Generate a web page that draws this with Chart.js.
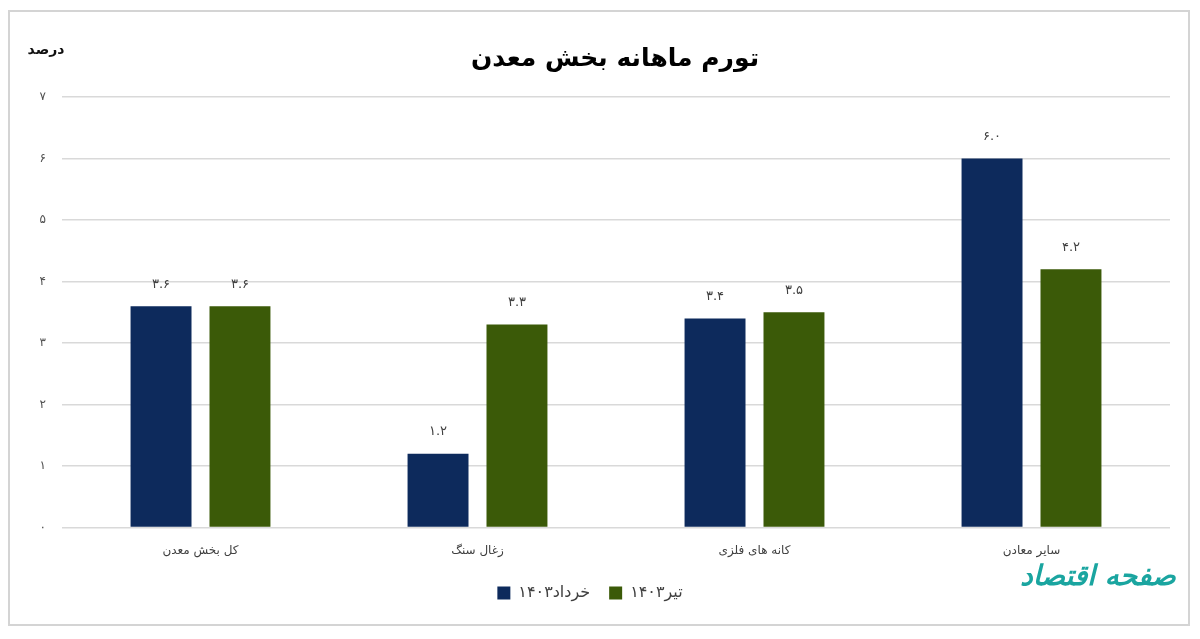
<!DOCTYPE html>
<html>
<head>
<meta charset="utf-8">
<script src="https://cdn.jsdelivr.net/npm/chart.js@4/dist/chart.umd.min.js"></script>
<style>
  body { margin: 0; background: #fff; }
  #frame {
    position: absolute; left: 8px; top: 10px;
    width: 1182px; height: 616px;
    box-sizing: border-box;
    border: 2px solid #d4d4d4;
  }
  canvas { display: block; }
</style>
</head>
<body>
<div id="frame"><canvas id="chart" width="1178" height="612"></canvas></div>
<script>
// data
var categories = ['کل بخش معدن', 'زغال سنگ', 'کانه های فلزی', 'سایر معادن'];
var seriesNames = ['خرداد۱۴۰۳', 'تیر۱۴۰۳'];
var khordad = [3.6, 1.2, 3.4, 6.0];
var tir = [3.6, 3.3, 3.5, 4.2];
var yTicks = [0, 1, 2, 3, 4, 5, 6, 7];
var chartTitle = 'تورم ماهانه بخش معدن';
var unitLabel = 'درصد';

var FONT = "'DejaVu Sans', sans-serif";
var faDigits = '۰۱۲۳۴۵۶۷۸۹';

// Convert latin digits to persian ones
function toFa(str) {
    return String(str).replace(/[0-9]/g, function (d) { return faDigits[d]; });
}

// Draw values above bars, title, unit label and watermark
var extraText = {
    id: 'extraText',
    afterDatasetsDraw: function (chart) {
        var ctx = chart.ctx;
        ctx.save();
        ctx.font = '13px ' + FONT;
        ctx.fillStyle = '#404040';
        ctx.textAlign = 'center';
        ctx.textBaseline = 'middle';
        chart.data.datasets.forEach(function (ds, i) {
            chart.getDatasetMeta(i).data.forEach(function (bar, j) {
                ctx.fillText(toFa(ds.data[j].toFixed(1)), bar.x, bar.y - 22);
            });
        });

        // title (sits a bit right of centre in the original)
        ctx.font = 'bold 25px ' + FONT;
        ctx.fillStyle = '#000';
        ctx.fillText(chartTitle, 605, 47);

        // unit label
        ctx.font = 'bold 14px ' + FONT;
        ctx.fillStyle = '#111';
        ctx.fillText(unitLabel, 36, 38);

        // watermark
        ctx.font = 'bold italic 28px ' + FONT;
        ctx.fillStyle = '#1aa5a0';
        ctx.fillText('صفحه اقتصاد', 1088, 566);
        ctx.restore();
    }
};

var ctx = document.getElementById('chart').getContext('2d');
var chart = new Chart(ctx, {
    type: 'bar',
    data: {
        labels: categories,
        datasets: [{
            label: seriesNames[0],
            data: khordad,
            backgroundColor: '#0d2a5c',
            categoryPercentage: 0.57,
            barPercentage: 0.772
        }, {
            label: seriesNames[1],
            data: tir,
            backgroundColor: '#3b5a08',
            categoryPercentage: 0.57,
            barPercentage: 0.772
        }]
    },
    options: {
        responsive: false,
        animation: false,
        layout: { padding: { left: 0, right: 18, top: 85, bottom: 13 } },
        plugins: {
            title: { display: false },
            legend: {
                position: 'bottom',
                labels: {
                    color: '#404040',
                    font: { family: FONT, size: 16 },
                    boxWidth: 13,
                    boxHeight: 13,
                    padding: 19
                }
            },
            tooltip: { enabled: false }
        },
        scales: {
            x: {
                grid: { display: false },
                border: { display: false },
                ticks: {
                    color: '#404040',
                    font: { family: FONT, size: 12 },
                    padding: 8
                }
            },
            y: {
                min: 0,
                max: 7,
                afterFit: function (scale) { scale.width = 52; },
                afterBuildTicks: function (scale) {
                    scale.ticks = yTicks.map(function (v) { return { value: v }; });
                },
                grid: { color: '#d9d9d9', lineWidth: 1.5, drawTicks: false },
                border: { display: false },
                ticks: {
                    color: '#505050',
                    font: { family: FONT, size: 12 },
                    padding: 16,
                    callback: function (v) { return toFa(v); }
                }
            }
        }
    },
    plugins: [extraText]
});
</script>
</body>
</html>
